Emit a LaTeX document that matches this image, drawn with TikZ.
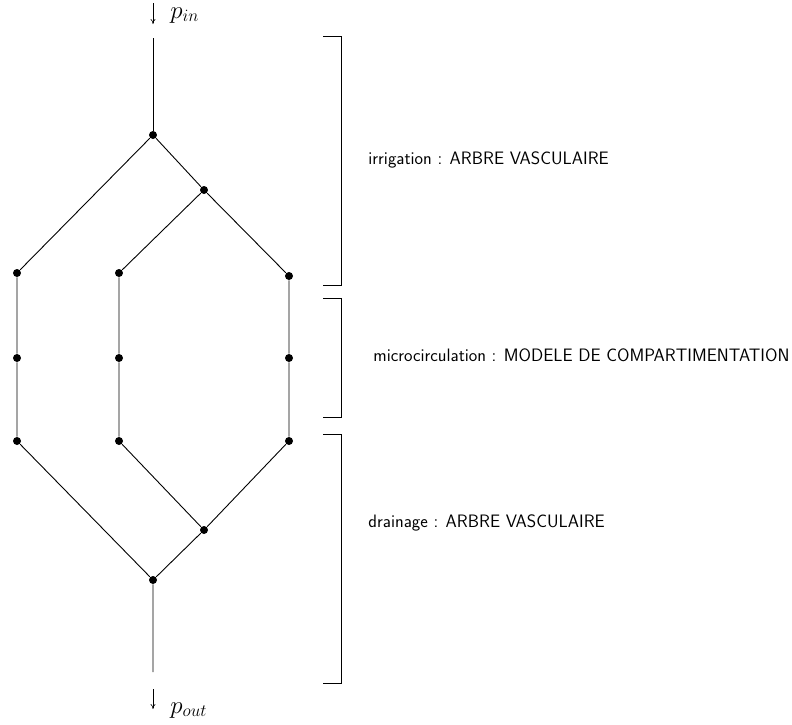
\documentclass[tikz,border=0pt]{standalone}
\usetikzlibrary{arrows.meta}
\begin{document}
\begin{tikzpicture}[x=1pt,y=-1pt,line width=0.9pt,
  dot/.style={circle,fill=black,inner sep=0pt,minimum size=8pt},
  lbl/.style={anchor=west,font=\fontsize{18}{21}\selectfont\sffamily,inner sep=0pt},
  mlbl/.style={anchor=base west,font=\fontsize{23}{26}\selectfont,inner sep=0pt},
  brk/.style={line width=0.9pt}]
\useasboundingbox (0,0) rectangle (792,724);
% nodes
\node[dot] (a) at (153,135) {};
\node[dot] (b) at (204,190) {};
\node[dot] (l1) at (17,273) {};
\node[dot] (l2) at (17,358) {};
\node[dot] (l3) at (17,441) {};
\node[dot] (m1) at (119,273) {};
\node[dot] (m2) at (119,358) {};
\node[dot] (m3) at (119,441) {};
\node[dot] (r1) at (289,276) {};
\node[dot] (r2) at (289,358) {};
\node[dot] (r3) at (289,441) {};
\node[dot] (bb) at (204,530) {};
\node[dot] (aa) at (153,580) {};
\coordinate (tin) at (153,38);
\coordinate (tout) at (153,672);
\coordinate (ai1) at (153,3);
\coordinate (ai2) at (153,24);
\coordinate (ao1) at (153,689);
\coordinate (ao2) at (153,709);
% edges
\draw (tin) -- (a);
\draw (a) -- (l1) -- (l2) -- (l3) -- (aa);
\draw (a) -- (b);
\draw (b) -- (m1) -- (m2) -- (m3) -- (bb);
\draw (b) -- (r1) -- (r2) -- (r3) -- (bb);
\draw (bb) -- (aa) -- (tout);
% arrows
\draw[-{To[length=5pt,width=5pt]},line width=0.6pt] (ai1) -- (ai2);
\draw[-{To[length=5pt,width=5pt]},line width=0.6pt] (ao1) -- (ao2);
\node[mlbl] (pin) at (170,18) {$p_{in}$};
\node[mlbl] (pout) at (170,713) {$p_{out}$};
% brackets
\draw[brk] (323,36) -- (341,36) -- (341,285) -- (323,285);
\draw[brk] (323,298) -- (341,298) -- (341,417) -- (323,417);
\draw[brk] (323,434) -- (341,434) -- (341,683) -- (323,683);
% labels
\node[lbl] (t1) at (368,160) {irrigation : ARBRE VASCULAIRE};
\node[lbl] (t2) at (373,355) {microcirculation : MODELE DE COMPARTIMENTATION};
\node[lbl] (t3) at (368,523) {drainage : ARBRE VASCULAIRE};
\end{tikzpicture}
\end{document}
